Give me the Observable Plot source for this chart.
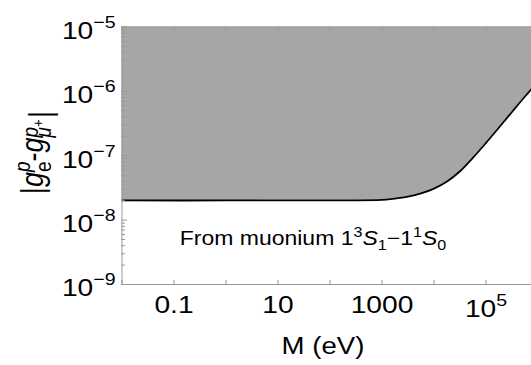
<!DOCTYPE html>
<html><head><meta charset="utf-8">
<script src="https://cdn.jsdelivr.net/npm/d3@7"></script>
<script src="https://cdn.jsdelivr.net/npm/@observablehq/plot@0.6"></script>
<style>body{margin:0;background:#fff} svg{display:block}</style>
</head><body><div id="chart"></div>
<script>
// ---- data ----
const massEV   = [0.01, 1, 100, 1000, 1585, 3162, 5623, 10000, 17783, 31623, 56234, 100000, 177828, 316228, 562341, 1000000];
const coupling = [2.02e-8, 2.02e-8, 2.03e-8, 2.06e-8, 2.14e-8, 2.32e-8, 2.60e-8, 3.09e-8, 3.98e-8, 5.75e-8, 9.33e-8, 1.585e-7, 2.75e-7, 4.79e-7, 8.32e-7, 1.41e-6];
const regionTop = 1e-5;

const xTickValues  = [0.01, 0.1, 1, 10, 100, 1000, 1e4, 1e5, 1e6];
const xLabelValues = [0.1, 10, 1000, 1e5];
const xLabelTexts  = ["0.1", "10", "1000", "10^5"];
const yTickValues  = [1e-9, 1e-8, 1e-7, 1e-6, 1e-5];
const yLabelTexts  = ["10^\u22129", "10^\u22128", "10^\u22127", "10^\u22126", "10^\u22125"];
const yMinorMultipliers = [2, 3, 4, 5, 6, 7, 8, 9];
const yMinorDecades = [1e-9, 1e-8, 1e-7, 1e-6];

const annotationText = ["From muonium 1³S₁−1¹S₀"];
const annotationM = [47];
const annotationG = [5.2e-9];
const xTitle = ["M (eV)"];
const yTitle = ["|g e p - g μ + p|"];

const curve = massEV.map((m, i) => ({M: m, g: coupling[i]}));
const yMinor = yMinorDecades.flatMap(d => yMinorMultipliers.map(k => k * d));
const annot = annotationText.map((t, i) => ({t, M: annotationM[i], g: annotationG[i]}));

const FONT = "'Liberation Sans', Arial, sans-serif";
const GRAY = "#999";

const chart = Plot.plot({
  width: 531, height: 365,
  marginLeft: 121, marginRight: 0, marginTop: 26, marginBottom: 81,
  style: {fontFamily: FONT, fontSize: "24px", background: "#fff", color: "#000"},
  x: {type: "log", domain: [0.01, 1e6], range: [121.5, 537.5]},
  y: {type: "log", domain: [1e-9, 1e-5], range: [284, 26.5]},
  marks: [
    Plot.areaY(curve, {x: "M", y1: "g", y2: regionTop, fill: "#a6a6a6", curve: "catmull-rom"}),
    Plot.lineY(curve, {x: "M", y: "g", stroke: "#000", strokeWidth: 1.8, curve: "catmull-rom"}),
    Plot.ruleY([regionTop], {stroke: GRAY}),
    Plot.ruleY([1e-9], {stroke: GRAY}),
    Plot.ruleX([0.01], {stroke: GRAY}),
    Plot.axisX({anchor: "bottom", ticks: xTickValues, tickSize: 4, dy: -4, tickFormat: () => "", stroke: GRAY, label: null}),
    Plot.axisX({anchor: "top", ticks: xTickValues, tickSize: 4, dy: 4, tickFormat: () => "", stroke: GRAY, label: null}),
    Plot.axisX({anchor: "bottom", ticks: xLabelValues, tickSize: 0, tickPadding: 11, fontSize: 24.5,
      tickFormat: d => xLabelTexts[xLabelValues.indexOf(d)], label: null}),
    Plot.axisY({anchor: "left", ticks: yMinor, tickSize: 4, dx: 4, tickFormat: () => "", stroke: GRAY, label: null}),
    Plot.axisY({anchor: "left", ticks: yTickValues, tickSize: 6, dx: 6, tickFormat: () => "", stroke: GRAY, label: null}),
    Plot.axisY({anchor: "left", ticks: yTickValues, tickSize: 0, tickPadding: 6, dy: 4, fontSize: 24.5,
      tickFormat: d => yLabelTexts[yTickValues.indexOf(d)], label: null}),
    Plot.text(annot, {x: "M", y: "g", text: "t", fontSize: 20}),
    Plot.text(xTitle, {frameAnchor: "bottom", textAnchor: "middle", lineAnchor: "middle", dx: -3.5, dy: 62, fontSize: 24}),
    Plot.text(yTitle, {frameAnchor: "left", textAnchor: "middle", lineAnchor: "middle", rotate: -90, dx: -88, dy: -3, fontSize: 27})
  ]
});
document.getElementById("chart").append(chart);

const svg = chart.tagName.toLowerCase() === "svg" ? chart : chart.querySelector("svg");
const NS = "http://www.w3.org/2000/svg";
function setRich(t, segs) {
  t.textContent = "";
  for (const s of segs) {
    const ts = document.createElementNS(NS, "tspan");
    ts.textContent = s.t;
    if (s.dx) ts.setAttribute("dx", s.dx);
    if (s.dy) ts.setAttribute("dy", s.dy);
    if (s.size) ts.setAttribute("font-size", s.size);
    if (s.i) ts.setAttribute("font-style", "italic");
    t.append(ts);
  }
}
svg.querySelectorAll("text").forEach(t => {
  const s = t.textContent;
  if (s.includes("^")) {
    const [b, e] = s.split("^");
    const isX = !!t.closest('[aria-label="x-axis tick label"]');
    setRich(t, [{t: b}, {t: e, dy: -11, size: 17}]);
    if (isX) t.setAttribute("dy", "4");
  } else if (s.startsWith("From muonium")) {
    setRich(t, [
      {t: "From muonium 1"}, {t: "3", dy: -8, size: 14}, {t: "S", dy: 8, i: 1},
      {t: "1", dy: 5, size: 14}, {t: "\u22121", dy: -5}, {t: "1", dy: -8, size: 14},
      {t: "S", dy: 8, i: 1}, {t: "0", dy: 5, size: 14}
    ]);
  } else if (s.startsWith("|g")) {
    setRich(t, [
      {t: "|"}, {t: "g", i: 1}, {t: "e", dy: 7, size: 19}, {t: "p", dx: -10.5, dy: -19, size: 19, i: 1},
      {t: "-", dy: 12}, {t: "g", i: 1}, {t: "\u03bc", dy: 7, size: 19, i: 1}, {t: "+", dy: -7, size: 13},
      {t: "p", dx: -18, dy: -5, size: 19, i: 1}, {t: "|", dx: 9, dy: 12}
    ]);
  }
});
// horizontally stretched glyphs as in the reference
svg.querySelectorAll("text").forEach(t => {
  const tr = t.getAttribute("transform");
  if (!tr) return;
  t.setAttribute("transform", tr + (tr.includes("rotate") ? " scale(1,1.15)" : " scale(1.15,1)"));
});
</script>
</body></html>
